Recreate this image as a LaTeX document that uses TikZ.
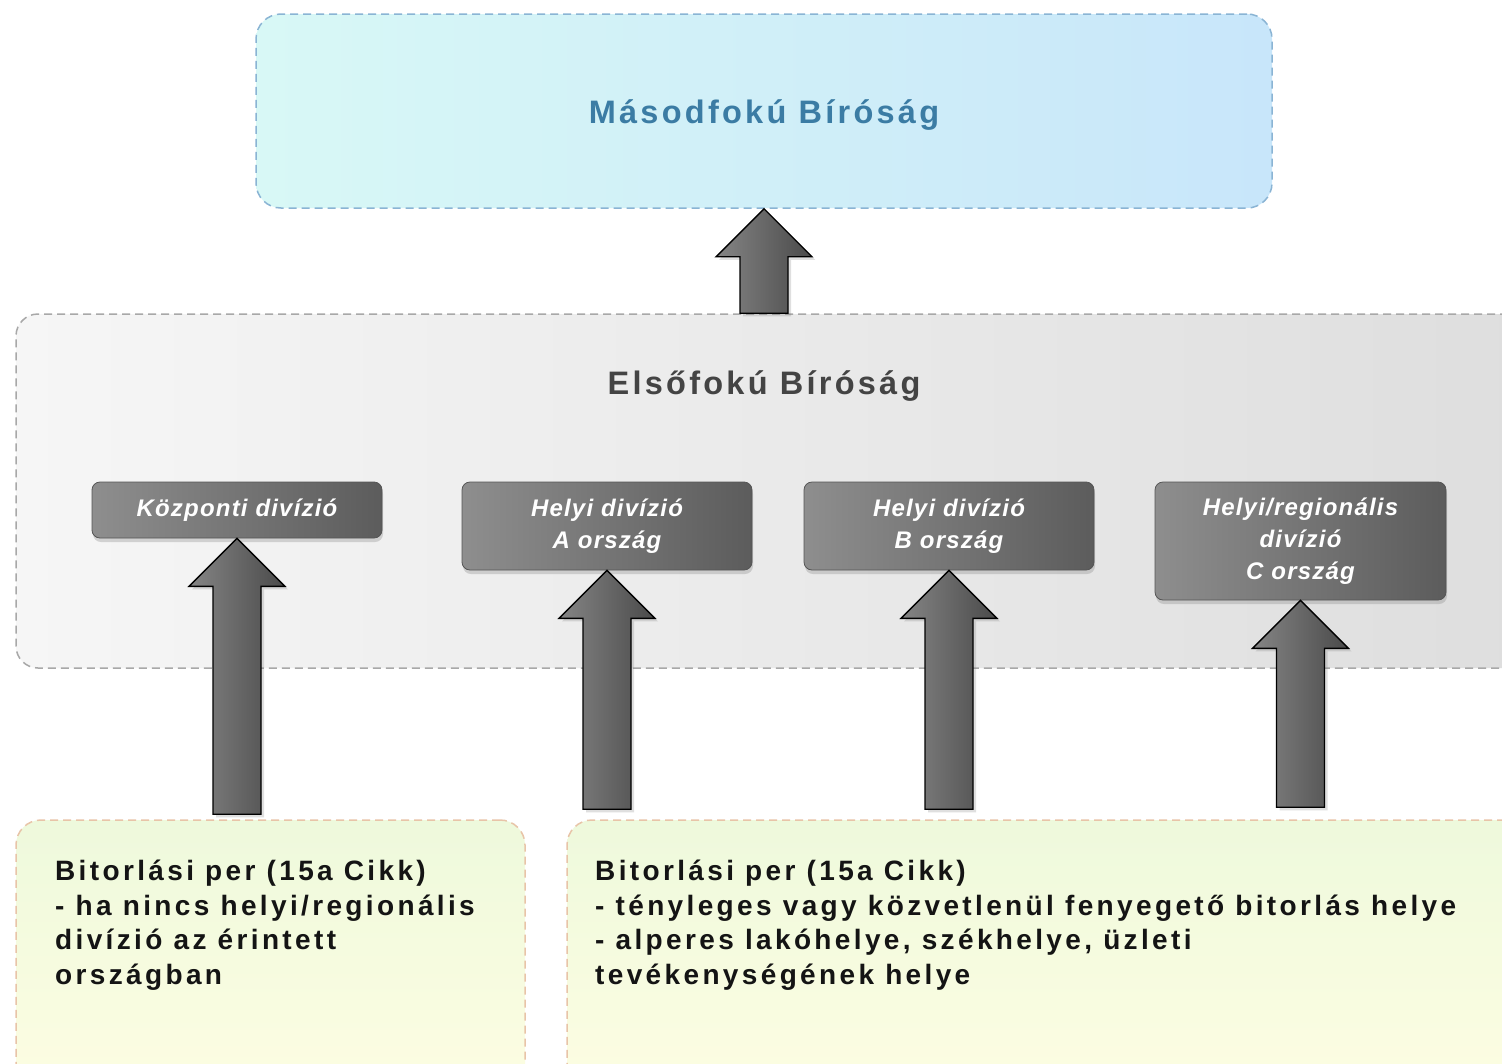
\documentclass[tikz,border=0pt]{standalone}
\usepackage{fontspec}
\setmainfont{Liberation Sans}
\newfontfamily\trackedfont[LetterSpace=10]{Liberation Sans}
\newfontfamily\casefont[LetterSpace=12]{Liberation Sans}
\newfontfamily\divfont[LetterSpace=5]{Liberation Sans}
\usetikzlibrary{calc,shadows}
\definecolor{titleblue}{HTML}{3B7CA4}
\definecolor{titlegray}{HTML}{444444}
\definecolor{topL}{HTML}{D8F8F6}
\definecolor{topR}{HTML}{C8E6FA}
\definecolor{topline}{HTML}{8AB4D4}
\definecolor{firstL}{HTML}{F6F6F6}
\definecolor{firstR}{HTML}{DEDEDE}
\definecolor{firstline}{HTML}{A8A8A8}
\definecolor{caseT}{HTML}{EEF9DC}
\definecolor{caseB}{HTML}{FDFDE2}
\definecolor{caseline}{HTML}{E8C4A8}
\definecolor{divL}{HTML}{8E8E8E}
\definecolor{divR}{HTML}{5C5C5C}
\definecolor{divline}{HTML}{555555}
\definecolor{arrL}{HTML}{858585}
\definecolor{arrM}{HTML}{A8A8A8}
\definecolor{arrR}{HTML}{4A4A4A}
\definecolor{casetextcol}{HTML}{141414}
\newcommand\fatarrow[2]{%
  \path[fatarrow] let \p1=(#1), \p2=(#2) in
    (\x2-24pt,\y1) -- (\x2-24pt,\y2-48pt) -- (\x2-48pt,\y2-48pt) -- (\x2,\y2)
    -- (\x2+48pt,\y2-48pt) -- (\x2+24pt,\y2-48pt) -- (\x2+24pt,\y1) -- cycle;}
\begin{document}
\begin{tikzpicture}[x=1pt,y=-1pt,
  dashline/.style={line width=1.5pt, dash pattern=on 8pt off 5pt},
  titletext/.style={font=\trackedfont\bfseries\fontsize{32.5}{38}\selectfont},
  topbox/.style={dashline, draw=topline, left color=topL, right color=topR,
    rounded corners=25pt, minimum width=1016pt, minimum height=194pt, inner sep=0pt},
  firstbox/.style={dashline, draw=firstline, left color=firstL, right color=firstR,
    rounded corners=22pt, minimum width=1514pt, minimum height=354pt, inner sep=0pt},
  casebox/.style={dashline, draw=caseline, top color=caseT, bottom color=caseB,
    rounded corners=25pt, minimum height=270pt, inner sep=0pt},
  casetext/.style={anchor=north west, inner sep=0pt, align=left, text=casetextcol,
    font=\casefont\bfseries\fontsize{28}{34.5}\selectfont},
  divbox/.style={draw=divline, line width=0.8pt, left color=divL, right color=divR,
    rounded corners=8pt, minimum width=290pt, inner sep=0pt, align=center, text=white,
    font=\divfont\bfseries\itshape\fontsize{24}{32}\selectfont,
    drop shadow={shadow xshift=1pt, shadow yshift=-4pt, opacity=0.3}},
  fatarrow/.style={draw=black, line width=1.4pt, line join=miter,
    left color=arrL, middle color=arrM, right color=arrR,
    drop shadow={shadow xshift=3pt, shadow yshift=-3pt, opacity=0.25}}]
\useasboundingbox (0,0) rectangle (1502,1063);
\clip (0,0) rectangle (1502,1063);
\fill[white] (0,0) rectangle (1502,1063);

% boxes
\node[topbox] (top) at (764,111) {};
\node[titletext, text=titleblue] (toptitle) at (764,115) {Másodfokú Bíróság};
\node[firstbox] (first) at (773,491) {};
\node[titletext, text=titlegray] (firsttitle) at (764,386) {Elsőfokú Bíróság};

\node[casebox, minimum width=509pt] (bl) at (270.5,955) {};
\node[casebox, minimum width=963pt] (br) at (1048.5,955) {};
\node[casetext] (bltext) at (55,860) {Bitorlási per (15a Cikk)\\- ha nincs helyi/regionális\\divízió az érintett\\országban};
\node[casetext] (brtext) at (595,860) {Bitorlási per (15a Cikk)\\- tényleges vagy közvetlenül fenyegető bitorlás helye\\- alperes lakóhelye, székhelye, üzleti\\tevékenységének helye};

\node[divbox, minimum height=56pt] (d1) at (237,510) {Központi divízió};
\node[divbox, minimum height=88pt] (d2) at (607,526) {Helyi divízió\\A ország};
\node[divbox, minimum height=88pt] (d3) at (949,526) {Helyi divízió\\B ország};
\node[divbox, minimum width=291pt, minimum height=118pt] (d4) at (1300.5,541) {Helyi/regionális\\divízió\\C ország};

% arrow tails
\coordinate (t0) at (top.south |- first.north);
\coordinate (t1) at ($(d1.south |- bl.north)+(0,-5)$);
\coordinate (t2) at ($(d2.south |- bl.north)+(0,-10)$);
\coordinate (t3) at ($(d3.south |- bl.north)+(0,-10)$);
\coordinate (t4) at ($(d4.south |- bl.north)+(0,-12)$);

\fatarrow{t0}{top.south}
\fatarrow{t1}{d1.south}
\fatarrow{t2}{d2.south}
\fatarrow{t3}{d3.south}
\fatarrow{t4}{d4.south}
\end{tikzpicture}
\end{document}
